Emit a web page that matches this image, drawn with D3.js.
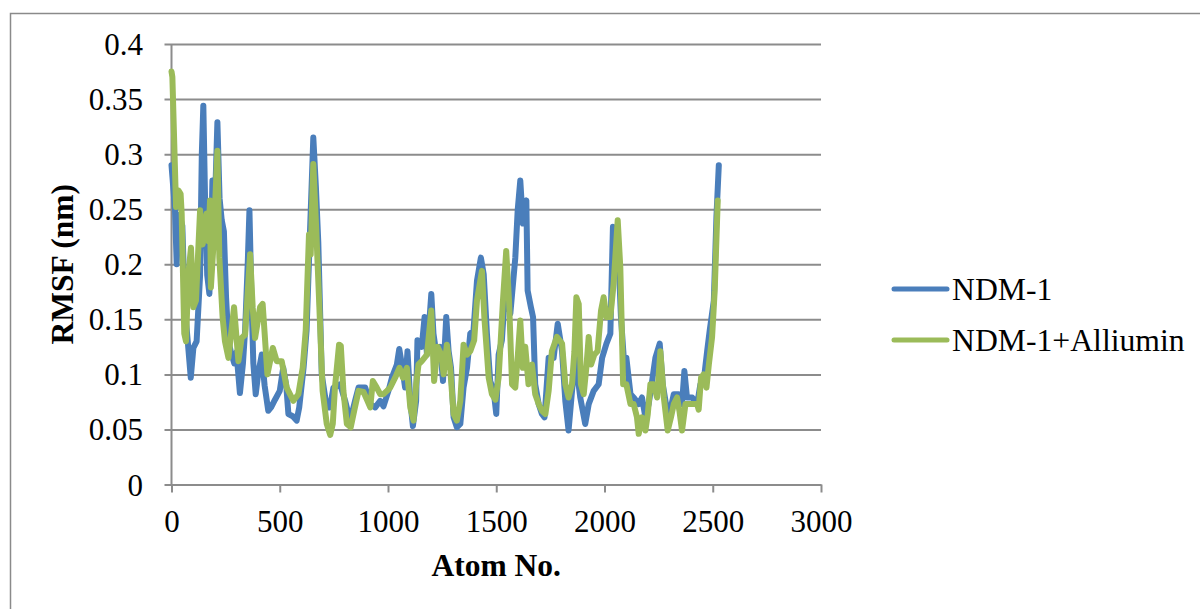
<!DOCTYPE html>
<html>
<head>
<meta charset="utf-8">
<script src="https://cdn.jsdelivr.net/npm/d3@7"></script>
<style>
  html, body { margin: 0; padding: 0; background: #fff; }
  svg { display: block; }
  text { font-family: "Liberation Serif", "Times New Roman", serif; fill: #000; }
</style>
</head>
<body>
<svg id="chart" width="1200" height="609"></svg>
<script>
// RMSF per atom, NDM-1 alone
const ndmAtoms = [0,16,24,32,39,50,62,75,89,101,116,132,140,147,155,165,175,183,189,200,212,222,232,242,252,263,275,290,300,316,330,340,352,360,368,378,389,400,417,430,447,460,478,500,516,530,540,560,578,590,610,624,638,647,655,667,678,694,717,732,748,779,802,825,848,864,895,918,941,964,979,1002,1018,1041,1052,1064,1079,1090,1103,1115,1130,1136,1156,1169,1180,1200,1210,1226,1241,1254,1269,1280,1291,1303,1318,1334,1349,1365,1380,1395,1411,1429,1442,1457,1472,1488,1500,1511,1526,1542,1565,1588,1599,1611,1623,1639,1645,1660,1670,1680,1696,1711,1723,1742,1765,1784,1804,1819,1834,1850,1865,1888,1911,1927,1950,1973,1989,2009,2027,2039,2050,2066,2076,2089,2101,2120,2135,2158,2173,2189,2204,2220,2235,2255,2269,2284,2300,2320,2343,2358,2369,2381,2405,2428,2443,2458,2474,2486,2505,2517,2528];
const ndmRmsf = [0.29,0.25,0.20,0.245,0.243,0.235,0.16,0.13,0.097,0.124,0.13,0.19,0.30,0.344,0.26,0.19,0.173,0.22,0.276,0.25,0.329,0.26,0.24,0.23,0.17,0.13,0.12,0.11,0.12,0.083,0.11,0.14,0.20,0.249,0.18,0.11,0.082,0.10,0.118,0.09,0.067,0.07,0.077,0.085,0.106,0.09,0.064,0.062,0.058,0.07,0.106,0.14,0.22,0.27,0.315,0.27,0.22,0.10,0.07,0.07,0.088,0.091,0.076,0.058,0.076,0.088,0.088,0.073,0.070,0.076,0.071,0.085,0.097,0.109,0.123,0.109,0.088,0.121,0.076,0.053,0.076,0.131,0.125,0.152,0.118,0.173,0.137,0.115,0.125,0.094,0.152,0.121,0.106,0.061,0.052,0.055,0.088,0.106,0.137,0.140,0.185,0.206,0.191,0.137,0.094,0.085,0.064,0.118,0.131,0.179,0.155,0.206,0.249,0.276,0.237,0.258,0.176,0.161,0.152,0.091,0.073,0.064,0.061,0.115,0.115,0.146,0.121,0.076,0.049,0.085,0.115,0.079,0.055,0.073,0.085,0.091,0.115,0.128,0.137,0.234,0.215,0.20,0.152,0.115,0.115,0.082,0.079,0.073,0.079,0.061,0.073,0.094,0.115,0.128,0.091,0.073,0.064,0.082,0.082,0.073,0.103,0.079,0.079,0.073,0.091,0.094,0.121,0.140,0.167,0.243,0.290];

// RMSF per atom, NDM-1 with Alliumin bound
const cplxAtoms = [0,4,21,32,42,47,59,67,78,90,101,113,132,144,162,170,178,182,193,212,221,236,247,263,289,309,324,340,363,375,386,409,421,443,468,486,509,532,563,586,606,620,635,643,655,668,683,698,717,733,745,755,774,782,794,810,828,844,864,887,905,918,930,948,964,979,995,1010,1033,1053,1069,1087,1103,1118,1130,1141,1156,1180,1200,1213,1229,1246,1257,1272,1287,1303,1318,1334,1349,1365,1380,1398,1411,1434,1445,1465,1480,1496,1511,1531,1546,1559,1573,1588,1600,1611,1623,1634,1649,1665,1680,1696,1711,1727,1742,1757,1780,1804,1819,1834,1850,1861,1870,1881,1891,1904,1916,1927,1938,1953,1968,1984,1996,2009,2027,2042,2061,2073,2086,2101,2120,2135,2150,2158,2173,2189,2200,2212,2227,2243,2258,2274,2292,2307,2320,2335,2346,2358,2374,2389,2405,2428,2435,2446,2458,2471,2482,2497,2509,2523];
const cplxRmsf = [0.375,0.37,0.252,0.267,0.264,0.246,0.137,0.130,0.191,0.215,0.161,0.167,0.249,0.218,0.246,0.221,0.258,0.179,0.215,0.303,0.206,0.152,0.130,0.115,0.161,0.112,0.133,0.136,0.209,0.161,0.133,0.161,0.164,0.100,0.124,0.112,0.112,0.088,0.076,0.082,0.106,0.140,0.227,0.209,0.291,0.234,0.161,0.085,0.055,0.045,0.055,0.088,0.127,0.126,0.085,0.055,0.052,0.067,0.085,0.084,0.076,0.070,0.094,0.088,0.082,0.082,0.085,0.088,0.097,0.106,0.097,0.106,0.070,0.058,0.091,0.109,0.112,0.118,0.158,0.094,0.125,0.118,0.100,0.127,0.106,0.064,0.058,0.076,0.127,0.118,0.121,0.131,0.167,0.194,0.152,0.097,0.082,0.077,0.097,0.167,0.212,0.167,0.091,0.088,0.118,0.149,0.106,0.125,0.091,0.109,0.082,0.073,0.067,0.064,0.085,0.121,0.134,0.128,0.091,0.079,0.091,0.121,0.170,0.164,0.091,0.082,0.106,0.134,0.109,0.118,0.121,0.158,0.170,0.152,0.152,0.182,0.240,0.197,0.091,0.091,0.073,0.073,0.061,0.046,0.061,0.049,0.064,0.091,0.091,0.079,0.121,0.079,0.049,0.061,0.073,0.079,0.067,0.049,0.073,0.073,0.073,0.073,0.068,0.097,0.100,0.088,0.109,0.134,0.176,0.258];

const xTickValues = [0, 500, 1000, 1500, 2000, 2500, 3000];
const yTickValues = [0, 0.05, 0.1, 0.15, 0.2, 0.25, 0.3, 0.35, 0.4];
const yTickLabels = ["0", "0.05", "0.1", "0.15", "0.2", "0.25", "0.3", "0.35", "0.4"];
const seriesNames = ["NDM-1", "NDM-1+Alliumin"];
const seriesColors = ["#4a7ebb", "#9bbb59"];

const svg = d3.select("#chart");
const plot = { left: 171.5, right: 821, top: 44, bottom: 484.5 };
const gridColor = "#8c8c8c";

const x = d3.scaleLinear().domain([0, 3000]).range([plot.left, plot.right]);
const y = d3.scaleLinear().domain([0, 0.4]).range([plot.bottom, plot.top]);

// outer chart frame
svg.append("rect")
  .attr("x", 10.5).attr("y", 13.5)
  .attr("width", 1300).attr("height", 700)
  .attr("fill", "none").attr("stroke", "#8a8a8a").attr("stroke-width", 1.5);

// horizontal gridlines with left tick marks
const yAxis = d3.axisLeft(y).tickValues(yTickValues)
  .tickSize(-(plot.right - plot.left)).tickSizeOuter(0)
  .tickFormat((d, i) => yTickLabels[i]);
const gy = svg.append("g").attr("transform", `translate(${plot.left},0)`).call(yAxis);
gy.select(".domain").remove();
gy.selectAll(".tick line").attr("stroke", gridColor).attr("stroke-width", 2)
  .attr("x1", -7);
gy.selectAll(".tick text")
  .attr("x", -28.5).attr("dy", "0.34em")
  .attr("text-anchor", "end")
  .style("font-family", "'Liberation Serif', serif").style("font-size", "31px").attr("fill", "#000");

// vertical axis line
svg.append("line")
  .attr("x1", plot.left).attr("x2", plot.left)
  .attr("y1", plot.top).attr("y2", plot.bottom)
  .attr("stroke", gridColor).attr("stroke-width", 2);

// horizontal axis with downward ticks
const xAxis = d3.axisBottom(x).tickValues(xTickValues).tickSize(8).tickSizeOuter(0).tickFormat(d3.format("d"));
const gx = svg.append("g").attr("transform", `translate(0,${plot.bottom})`).call(xAxis);
gx.select(".domain").attr("stroke", gridColor).attr("stroke-width", 2);
gx.selectAll(".tick line").attr("stroke", gridColor).attr("stroke-width", 2);
gx.selectAll(".tick text")
  .attr("y", 47.5).attr("dy", 0)
  .style("font-family", "'Liberation Serif', serif").style("font-size", "31px").attr("fill", "#000");

// series lines
const line = d3.line().x(d => x(d[0])).y(d => y(d[1]));
const series = [
  d3.zip(ndmAtoms, ndmRmsf),
  d3.zip(cplxAtoms, cplxRmsf)
];
series.forEach((pts, i) => {
  svg.append("path")
    .datum(pts)
    .attr("d", line)
    .attr("fill", "none")
    .attr("stroke", seriesColors[i])
    .attr("stroke-width", 6)
    .attr("stroke-linejoin", "round")
    .attr("stroke-linecap", "round");
});

// axis titles
svg.append("text")
  .attr("x", (plot.left + plot.right) / 2).attr("y", 576)
  .attr("text-anchor", "middle")
  .style("font-size", "31.5px").style("font-weight", "bold")
  .text("Atom No.");

svg.append("text")
  .attr("transform", `translate(73,${(plot.top + plot.bottom) / 2}) rotate(-90)`)
  .attr("text-anchor", "middle")
  .style("font-size", "31.5px").style("font-weight", "bold")
  .text("RMSF (nm)");

// legend
const legendY = [289, 340];
seriesNames.forEach((name, i) => {
  const g = svg.append("g").attr("transform", `translate(0,${legendY[i]})`);
  g.append("line")
    .attr("x1", 894).attr("x2", 947).attr("y1", 0).attr("y2", 0)
    .attr("stroke", seriesColors[i]).attr("stroke-width", 5)
    .attr("stroke-linecap", "round");
  g.append("text")
    .attr("x", 952).attr("y", 0).attr("dy", "0.34em")
    .style("font-size", "31.7px")
    .text(name);
});
</script>
</body>
</html>
